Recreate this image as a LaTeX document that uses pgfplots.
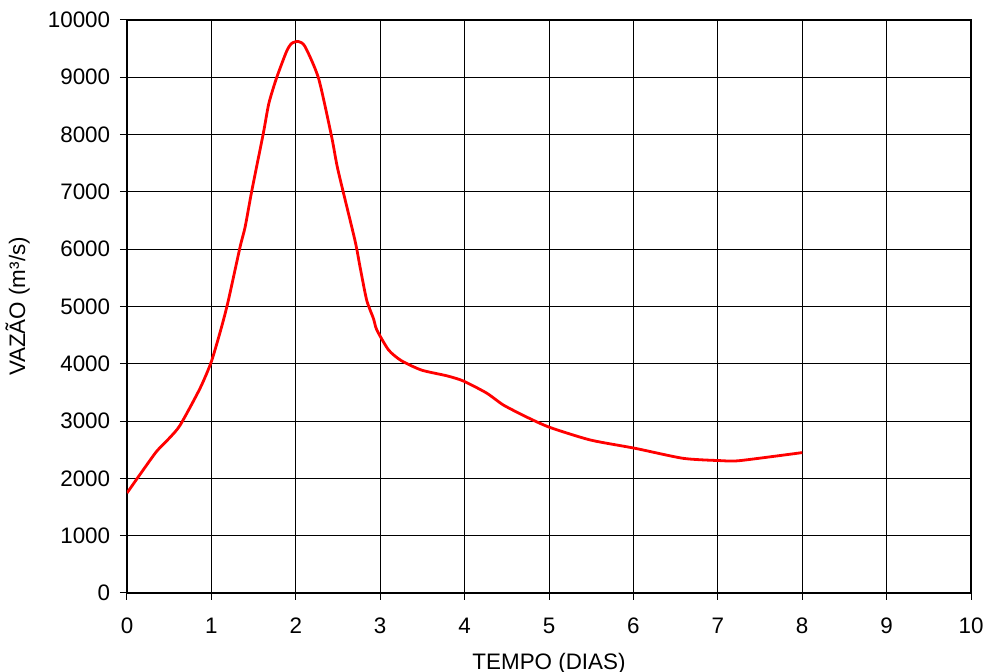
\documentclass[border=0pt]{standalone}
\usepackage{fontspec}
\setmainfont{Liberation Sans}
\usepackage{pgfplots}
\pgfplotsset{compat=1.18}
\begin{document}
\fontsize{11.2}{13}\selectfont
\begin{tikzpicture}
\begin{axis}[
  name=ax,
  scale only axis,
  width=422pt, height=286.5pt,
  xmin=0, xmax=10, ymin=0, ymax=10000,
  xtick={0,1,...,10},
  ytick={0,1000,...,10000},
  /pgf/number format/assume math mode=true,
  /pgf/number format/1000 sep={},
  scaled y ticks=false,
  tick align=outside,
  major tick length=3.5pt,
  xtick pos=bottom, ytick pos=left,
  tick style={black, line width=0.5pt},
  grid=major,
  major grid style={black, line width=0.5pt},
  axis line style={black, line width=0.6pt},
  xticklabel style={font=\fontsize{11.2}{13}\selectfont, yshift=-5pt},
  yticklabel style={font=\fontsize{11.2}{13}\selectfont, xshift=-1pt},
  xlabel={TEMPO (DIAS)},
  ylabel={VAZÃO (m³/s)},
  xlabel style={at={(axis description cs:0.5,-0.123)}, anchor=center, font=\fontsize{11.2}{13}\selectfont},
  ylabel style={at={(axis description cs:-0.1295,0.5)}, anchor=center, font=\fontsize{11.2}{13}\selectfont},
]
\addplot[red, line width=1.4pt, smooth, tension=0.4] coordinates {
(0,1745) (0.15,2060) (0.35,2470) (0.5,2700) (0.63,2930) (0.865,3570)
(1.0,4040) (1.12,4640) (1.2,5100) (1.34,6040) (1.40,6390) (1.48,7030)
(1.615,8020) (1.68,8540) (1.77,8980) (1.89,9450) (1.95,9590) (2.03,9625)
(2.11,9535) (2.27,8980) (2.425,7960) (2.50,7380) (2.70,6160) (2.76,5700)
(2.84,5110) (2.92,4790) (2.96,4590) (3.10,4240) (3.25,4055) (3.49,3890)
(3.79,3790) (3.985,3700) (4.26,3490) (4.46,3280) (4.75,3060) (5.01,2890)
(5.49,2670) (6.02,2525) (6.59,2350) (7.03,2310) (7.26,2310) (8.0,2450)
};
\end{axis}
\pgfresetboundingbox
\path ([shift={(-63.5pt,-39.5pt)}]ax.south west) rectangle ([shift={(7pt,10pt)}]ax.north east);
\end{tikzpicture}
\end{document}
